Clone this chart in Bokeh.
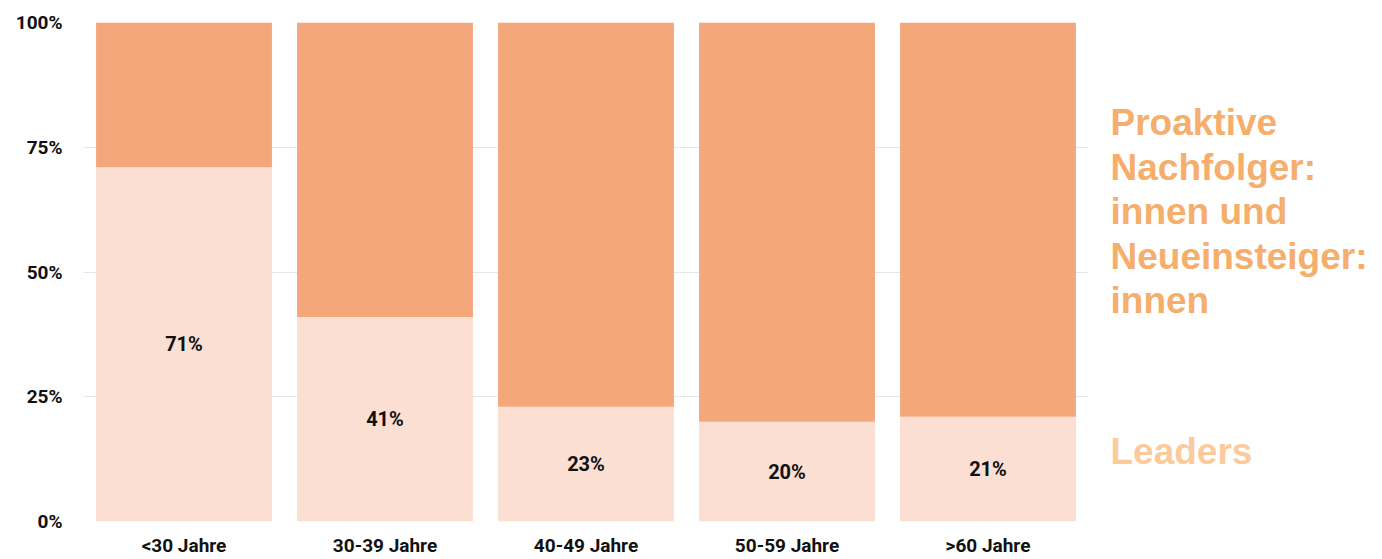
from bokeh.plotting import figure
from bokeh.layouts import row
from bokeh.models import FixedTicker, PrintfTickFormatter, ColumnDataSource, LabelSet, Range1d
from bokeh.core.properties import value
from bokeh.embed import file_html
from bokeh.resources import INLINE

categories = ["<30 Jahre", "30-39 Jahre", "40-49 Jahre", "50-59 Jahre", ">60 Jahre"]
leaders = [71, 41, 23, 20, 21]
proaktive = [29, 59, 77, 80, 79]
value_labels = ["71%", "41%", "23%", "20%", "21%"]
y_ticks = [0, 25, 50, 75, 100]
legend_proaktive = ["Proaktive", "Nachfolger:", "innen und", "Neueinsteiger:", "innen"]
legend_leaders = ["Leaders"]

DARK = "#F4A77B"
LIGHT = "#FBDFD2"
FONT = "Roboto"

src = ColumnDataSource(dict(
    cat=categories,
    leaders=leaders,
    proaktive=proaktive,
    mid=[v / 2 for v in leaders],
    lab=value_labels,
))

p = figure(x_range=categories, y_range=(0, 100), frame_width=1005, frame_height=499,
           output_backend="svg", toolbar_location=None,
           min_border_left=83, min_border_right=0, min_border_top=22, min_border_bottom=38)
p.x_range.range_padding = 0
p.x_range.factor_padding = 0

p.vbar_stack(["leaders", "proaktive"], x="cat", width=0.875, source=src,
             color=[LIGHT, DARK], line_color=None)

p.add_layout(LabelSet(x="cat", y="mid", text="lab", source=src,
                      text_align="center", text_baseline="middle",
                      text_font=value(FONT), text_font_style="bold", text_font_size="20px",
                      text_color="#111111"))

p.outline_line_color = None
p.xgrid.grid_line_color = None
p.ygrid.grid_line_color = "#E6E6E6"
p.ygrid.ticker = FixedTicker(ticks=y_ticks)
p.yaxis.ticker = FixedTicker(ticks=y_ticks)
p.yaxis.formatter = PrintfTickFormatter(format="%d%%")
for ax in (p.xaxis, p.yaxis):
    ax.axis_line_color = None
    ax.major_tick_line_color = None
    ax.minor_tick_line_color = None
    ax.major_tick_out = 0
    ax.major_tick_in = 0
    ax.major_label_text_font = FONT
    ax.major_label_text_font_style = "bold"
    ax.major_label_text_color = "#111111"
p.yaxis.major_label_text_font_size = "19px"
p.xaxis.major_label_text_font_size = "19px"
p.yaxis.major_label_standoff = 21
p.xaxis.major_label_standoff = 12

# legend panel as a separate figure with pixel-like coordinates
leg = figure(frame_width=294, frame_height=559, x_range=Range1d(0, 294), y_range=Range1d(559, 0),
             output_backend="svg", toolbar_location=None,
             x_axis_location=None, y_axis_location=None,
             min_border=0, min_border_left=0, min_border_right=0,
             min_border_top=0, min_border_bottom=0)
leg.grid.visible = False
leg.outline_line_color = None

leg_src1 = ColumnDataSource(dict(
    x=[22] * len(legend_proaktive),
    y=[100 + 44.5 * i for i in range(len(legend_proaktive))],
    t=legend_proaktive,
))
leg.text(x="x", y="y", text="t", source=leg_src1, text_font=value("Liberation Sans"),
         text_font_style="bold", text_font_size="37px", text_color="#F5AE6B",
         text_baseline="alphabetic", text_align="left")
leg_src2 = ColumnDataSource(dict(x=[22], y=[429], t=legend_leaders))
leg.text(x="x", y="y", text="t", source=leg_src2, text_font=value("Liberation Sans"),
         text_font_style="bold", text_font_size="37px", text_color="#FBCB9C",
         text_baseline="alphabetic", text_align="left")

layout = row(p, leg, spacing=0)
open("out.html", "w").write(file_html(layout, INLINE))
